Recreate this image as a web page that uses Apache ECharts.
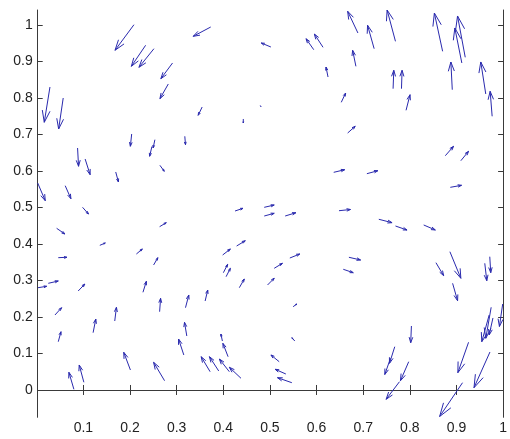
<!DOCTYPE html>
<html>
<head>
<meta charset="utf-8">
<script src="https://cdn.jsdelivr.net/npm/echarts@6/dist/echarts.min.js"></script>
<style>
html,body{margin:0;padding:0;background:#fff;}
#chart{width:510px;height:439px;}
</style>
</head>
<body>
<div id="chart"></div>
<script>
// Arrow tails (x, y) and components (u, v), data units
const xs = [0.2085,0.2335,0.2513,0.2912,0.2821,0.3731,0.0284,0.0568,0.3547,0.4429,0.4793,0.2036,0.2534,0.2470,0.3175,0.0876,0.1038,0.1694,0.2641,0.0021,0.0611,0.0983,0.4252,0.4878,0.4878,0.5327,0.6481,0.5021,0.5940,0.6139,0.6887,0.7235,0.7692,0.8703,0.9115,0.9188,0.6844,0.6246,0.7641,0.7821,0.8910,0.9628,0.9765,0.6530,0.7919,0.6667,0.8761,0.9094,0.6368,0.7079,0.8868,
  0.0427,0.1353,0.2635,0.0462,0.0028,0.0248,0.0889,0.0391,0.0462,0.1209,0.1673,0.0797,0.1011,0.2009,0.2741,0.2137,0.2506,0.2278,0.2635,0.3190,0.3611,0.3218,0.3154,0.3718,0.3902,0.4130,0.4380,0.3981,0.4103,0.3987,0.4286,0.4002,0.4060,0.4344,
  0.4949,0.5092,0.5427,0.6694,0.6573,0.5498,0.5534,0.5199,0.5342,0.5470,0.7335,0.7692,0.8297,0.8859,0.8560,0.8917,0.9607,0.9714,0.9991,0.9701,0.9744,0.9782,0.8034,0.7677,0.7585,0.7976,0.7778,0.9259,0.9718,0.9130];
const ys = [1.0008,0.9444,0.9351,0.8959,0.8384,0.9945,0.8301,0.8000,0.7753,0.7425,0.7795,0.7014,0.6858,0.6671,0.6951,0.6630,0.6329,0.5973,0.6156,0.5671,0.5597,0.5005,0.4904,0.5005,0.4767,0.4767,0.4912,0.9397,0.9323,0.9389,0.9781,0.9351,0.9553,0.9279,0.8959,0.9115,0.8868,0.8575,0.8255,0.8255,0.8227,0.8110,0.7499,0.7882,0.7663,0.7041,0.6419,0.6282,0.5964,0.5926,0.5553,
  0.4430,0.3964,0.4474,0.3625,0.2803,0.2923,0.2712,0.2055,0.1323,0.1570,0.1890,0.0019,0.0211,0.0548,0.0255,0.3726,0.3425,0.2677,0.2145,0.2255,0.2438,0.1479,0.0959,0.0501,0.0521,0.0501,0.0321,0.1342,0.0912,0.3699,0.3945,0.3214,0.3104,0.2803,
  0.2877,0.3334,0.3616,0.3636,0.3307,0.2282,0.1342,0.0775,0.0438,0.0200,0.4677,0.4493,0.4521,0.3789,0.3488,0.2923,0.3471,0.3652,0.2356,0.2055,0.2266,0.1973,0.1753,0.1186,0.0868,0.0775,0.0227,0.1307,0.1041,0.0200];
const us = [-0.0406,-0.0306,-0.0321,-0.0250,-0.0179,-0.0376,-0.0122,-0.0098,-0.0085,0.0000,0.0015,-0.0028,-0.0038,-0.0049,0.0015,0.0021,0.0107,0.0058,0.0094,0.0162,0.0122,0.0128,0.0171,0.0214,0.0214,0.0229,0.0246,-0.0207,-0.0165,-0.0186,-0.0220,-0.0141,-0.0179,-0.0177,-0.0150,-0.0165,-0.0070,-0.0043,0.0015,0.0013,-0.0030,-0.0107,-0.0043,0.0094,0.0085,0.0162,0.0177,0.0165,0.0235,0.0235,0.0241,
  0.0177,0.0118,0.0143,0.0186,0.0186,0.0214,0.0143,0.0143,0.0058,0.0058,0.0036,-0.0107,-0.0100,-0.0143,-0.0235,0.0128,0.0092,0.0073,0.0021,0.0071,0.0056,-0.0049,-0.0113,-0.0192,-0.0199,-0.0214,-0.0250,-0.0032,-0.0111,0.0165,0.0186,0.0092,0.0092,0.0107,
  0.0143,0.0177,0.0214,0.0250,0.0214,0.0079,-0.0064,-0.0177,-0.0229,-0.0308,0.0284,0.0248,0.0250,0.0235,0.0165,0.0107,0.0043,0.0021,-0.0070,-0.0158,-0.0115,-0.0081,-0.0015,-0.0113,-0.0122,-0.0177,-0.0286,-0.0229,-0.0342,-0.0491];
const vs = [-0.0701,-0.0575,-0.0510,-0.0430,-0.0403,-0.0255,-0.0967,-0.0849,-0.0227,-0.0110,-0.0033,-0.0337,-0.0227,-0.0268,-0.0230,-0.0501,-0.0430,-0.0274,-0.0164,-0.0485,-0.0356,-0.0184,0.0074,0.0063,0.0074,0.0090,0.0033,0.0110,0.0301,0.0364,0.0595,0.0641,0.0858,0.1049,0.0959,0.1132,0.0438,0.0274,0.0504,0.0504,0.0759,0.0877,0.0685,0.0255,0.0427,0.0184,0.0258,0.0258,0.0071,0.0082,0.0055,
  -0.0156,0.0063,0.0110,0.0011,0.0038,0.0063,0.0192,0.0200,0.0274,0.0375,0.0375,0.0466,0.0474,0.0485,0.0504,0.0137,0.0200,0.0301,0.0367,0.0348,0.0301,0.0375,0.0438,0.0411,0.0392,0.0348,0.0301,0.0192,0.0367,0.0164,0.0145,0.0230,0.0230,0.0238,
  0.0184,0.0137,0.0110,-0.0074,-0.0093,0.0074,0.0090,0.0184,0.0129,0.0137,-0.0093,-0.0110,-0.0137,-0.0729,-0.0356,-0.0477,-0.0477,-0.0438,-0.0616,-0.0732,-0.0849,-0.0466,-0.0458,-0.0455,-0.0444,-0.0521,-0.0482,-0.0833,-0.0978,-0.0926];

const xTicks = [0.1,0.2,0.3,0.4,0.5,0.6,0.7,0.8,0.9,1];
const yTicks = [0,0.1,0.2,0.3,0.4,0.5,0.6,0.7,0.8,0.9,1];

const X_MIN = 0.0021, X_MAX = 1.0;
const Y_MIN = -0.0748, Y_MAX = 1.0411;

const arrowColor = '#2a2aae';
const axisColor = '#3a3a3a';
const textColor = '#222';

const data = xs.map((x, i) => [x, ys[i], us[i], vs[i]]);

function renderItem(params, api) {
  const x = api.value(0), y = api.value(1), u = api.value(2), v = api.value(3);
  const p0 = api.coord([x, y]);
  const p1 = api.coord([x + u, y + v]);
  const dx = p1[0] - p0[0], dy = p1[1] - p0[1];
  const a = 0.33, b = 0.33;
  const h1 = [p1[0] - a * (dx + b * dy), p1[1] - a * (dy - b * dx)];
  const h2 = [p1[0] - a * (dx - b * dy), p1[1] - a * (dy + b * dx)];
  const st = { stroke: arrowColor, lineWidth: 1, fill: null };
  return {
    type: 'group',
    children: [
      { type: 'polyline', shape: { points: [p0, p1] }, style: st },
      { type: 'polyline', shape: { points: [h1, p1, h2] }, style: st }
    ]
  };
}

function fmt(v) { return String(+(+v).toFixed(1)); }

const labelStyle = { color: textColor, fontFamily: 'Liberation Sans, Arial, sans-serif', fontSize: 14 };

const chart = echarts.init(document.getElementById('chart'), null, { renderer: 'canvas' });
chart.setOption({
  animation: false,
  backgroundColor: '#ffffff',
  grid: { left: 37.7, right: 5.3, top: 10, bottom: 21.7, containLabel: false },
  xAxis: [
    {
      type: 'value', min: X_MIN, max: X_MAX, position: 'bottom',
      axisLine: { show: true, lineStyle: { color: axisColor, width: 1 } },
      axisTick: { show: true, inside: true, length: 5, lineStyle: { color: axisColor }, customValues: xTicks },
      axisLabel: Object.assign({ show: true, margin: 4, formatter: fmt, customValues: xTicks }, labelStyle),
      splitLine: { show: false }
    },
    {
      type: 'value', min: X_MIN, max: X_MAX, position: 'top',
      axisLine: { show: true, lineStyle: { color: axisColor, width: 1 } },
      axisTick: { show: true, inside: true, length: 5, lineStyle: { color: axisColor }, customValues: xTicks },
      axisLabel: { show: false },
      splitLine: { show: false }
    }
  ],
  yAxis: [
    {
      type: 'value', min: Y_MIN, max: Y_MAX, position: 'left',
      axisLine: { show: true, lineStyle: { color: axisColor, width: 1 } },
      axisTick: { show: true, inside: true, length: 5, lineStyle: { color: axisColor }, customValues: yTicks },
      axisLabel: Object.assign({ show: true, margin: 5, formatter: fmt, customValues: yTicks }, labelStyle),
      splitLine: { show: false }
    },
    {
      type: 'value', min: Y_MIN, max: Y_MAX, position: 'right',
      axisLine: { show: true, lineStyle: { color: axisColor, width: 1 } },
      axisTick: { show: true, inside: true, length: 5, lineStyle: { color: axisColor }, customValues: yTicks },
      axisLabel: { show: false },
      splitLine: { show: false }
    }
  ],
  series: [{
    type: 'custom',
    xAxisIndex: 0,
    yAxisIndex: 0,
    clip: true,
    renderItem: renderItem,
    encode: { x: 0, y: 1 },
    data: data,
    silent: true
  }]
});
</script>
</body>
</html>
